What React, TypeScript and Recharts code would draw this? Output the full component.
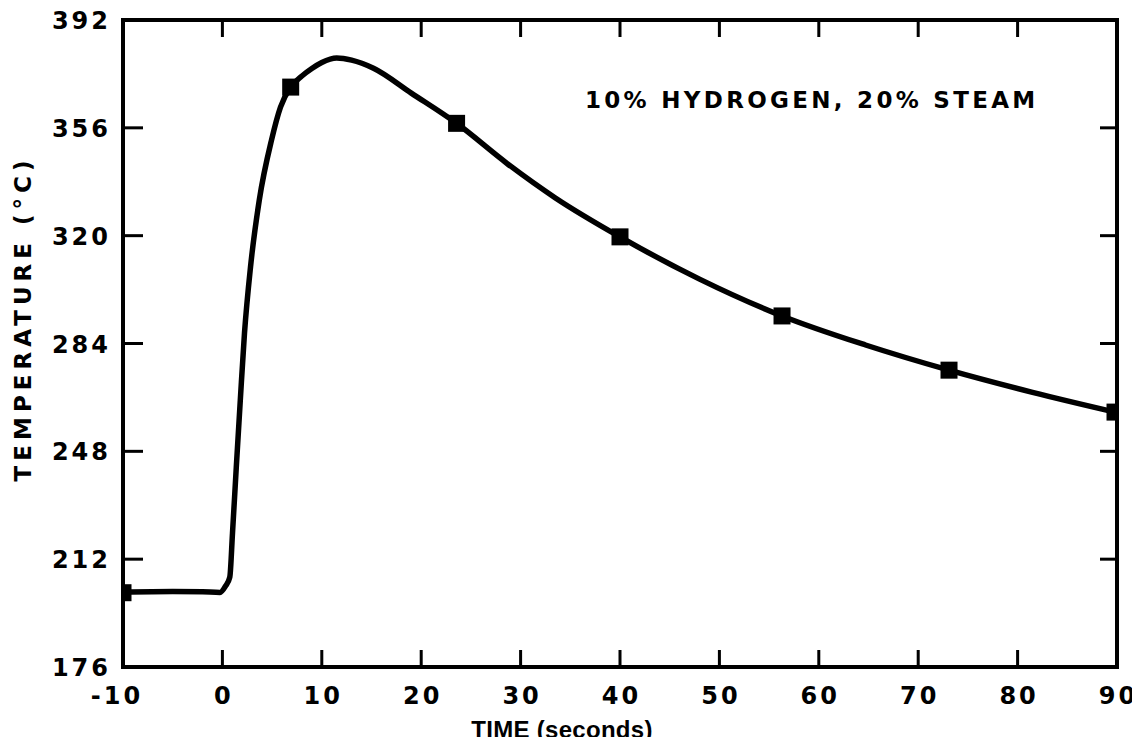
import React from 'react';
import { ComposedChart, Line, Scatter, XAxis, YAxis, ReferenceLine } from 'recharts';

// ---- data ----
const xTicks = [-10, 0, 10, 20, 30, 40, 50, 60, 70, 80, 90];
const xInnerTicks = [0, 10, 20, 30, 40, 50, 60, 70, 80];
const yTicks = [176, 212, 248, 284, 320, 356, 392];
const yInnerTicks = [212, 248, 284, 320, 356];

const curveTime = [-10, -5, -2, -0.24, 0.31, 0.745, 1.016, 1.398, 1.801, 2.223, 2.827, 3.712, 4.94, 5.845, 6.871, 8.0, 9.0, 10.0, 11.5, 13.0, 15.2, 19.0, 23.56, 28.6, 33.5, 40.0, 48.0, 56.3, 64.7, 73.1, 81.5, 89.8];
const curveTemp = [201, 201.2, 201.1, 200.9, 203.0, 206.0, 220.7, 242.7, 265.1, 287.5, 309.5, 331.9, 351.9, 362.9, 369.6, 373.3, 375.8, 377.8, 379.3, 378.6, 375.9, 367.6, 357.5, 344.2, 332.6, 319.6, 305.5, 293.2, 283.5, 275.1, 267.7, 261.1];

const markerTime = [-10, 6.87, 23.56, 40.0, 56.3, 73.1, 89.8];
const markerTemp = [200.8, 369.6, 357.5, 319.6, 293.2, 275.1, 261.1];

const annotation = '10% HYDROGEN, 20% STEAM';
const xTitle = 'TIME (seconds)';
const yTitle = 'TEMPERATURE (°C)';

const X_MIN = -10, X_MAX = 90, Y_MIN = 176, Y_MAX = 392;

const curveData = curveTime.map((t, i) => ({ t, temp: curveTemp[i] }));
const markerData = markerTime.map((t, i) => ({ t, temp: markerTemp[i] }));
const bottomTickData = xInnerTicks.map((t) => ({ t, temp: Y_MIN }));
const topTickData = xInnerTicks.map((t) => ({ t, temp: Y_MAX }));

// chart layout
const CHART_W = 1140, CHART_H = 745;
const MARGIN = { top: 20, right: 23, bottom: 0, left: 0 };
const Y_AXIS_W = 123, X_AXIS_H = 78;
const PLOT_W = CHART_W - MARGIN.left - MARGIN.right - Y_AXIS_W;
const Y_TICK_LEN_L = (20 * (X_MAX - X_MIN)) / PLOT_W;
const Y_TICK_LEN_R = (17 * (X_MAX - X_MIN)) / PLOT_W;

const FONT = '"DejaVu Sans", "Liberation Sans", sans-serif';
const TITLE_FONT = '"Liberation Sans", Arial, sans-serif';
const INK = '#000';

const BottomLabel = (props: any) => {
  const { x, y, payload } = props;
  const v = Number(payload.value);
  return (
    <text
      x={x}
      y={y + 37}
      dx={v < 0 ? -6 : 1.5}
      textAnchor="middle"
      fill={INK}
      style={{ fontFamily: FONT, fontWeight: 700, fontSize: 24, letterSpacing: 3 }}
    >
      {String(v)}
    </text>
  );
};

const LeftLabel = (props: any) => {
  const { x, y, payload } = props;
  const v = Number(payload.value);
  return (
    <text
      x={x - 12}
      y={y + 9}
      textAnchor="end"
      fill={INK}
      style={{ fontFamily: FONT, fontWeight: 700, fontSize: 24, letterSpacing: 3 }}
    >
      {String(v)}
    </text>
  );
};

const SquareMarker = (props: any) => {
  const { cx, cy } = props;
  return <rect x={cx - 8.5} y={cy - 8.5} width={17} height={17} fill={INK} />;
};

// inward tick marks drawn at tick positions on the bottom / top edges
const BottomTickMark = (props: any) => {
  const { cx, cy } = props;
  return <rect x={cx - 1.5} y={cy - 17} width={3} height={17} fill={INK} />;
};
const TopTickMark = (props: any) => {
  const { cx, cy } = props;
  return <rect x={cx - 1.5} y={cy} width={3} height={17} fill={INK} />;
};

const axisLineStyle = { stroke: INK, strokeWidth: 4, strokeLinecap: 'square' as const };
const tickProps = { xAxisId: 'b', yAxisId: 'l', stroke: INK, strokeWidth: 3, ifOverflow: 'visible' as const };
const frameProps = { xAxisId: 'b', yAxisId: 'l', stroke: INK, strokeWidth: 4, strokeLinecap: 'square' as const, ifOverflow: 'visible' as const };

export default function App() {
  return (
    <div style={{ margin: '-8px', width: CHART_W, height: CHART_H, background: '#fff' }}>
      <ComposedChart width={CHART_W} height={CHART_H} margin={MARGIN}>
        <XAxis
          xAxisId="b"
          type="number"
          dataKey="t"
          domain={[X_MIN, X_MAX]}
          ticks={xTicks}
          allowDataOverflow
          orientation="bottom"
          height={X_AXIS_H}
          tickSize={0}
          tickMargin={0}
          tickLine={false}
          axisLine={axisLineStyle}
          tick={<BottomLabel />}
          interval={0}
          label={{
            value: xTitle,
            position: 'insideBottom',
            offset: 7,
            dx: -58,
            fill: INK,
            style: { fontFamily: TITLE_FONT, fontWeight: 700, fontSize: 24, letterSpacing: 0.3, fill: INK },
          }}
        />
        <YAxis
          yAxisId="l"
          type="number"
          domain={[Y_MIN, Y_MAX]}
          ticks={yTicks}
          allowDataOverflow
          orientation="left"
          width={Y_AXIS_W}
          tickSize={0}
          tickMargin={0}
          tickLine={false}
          axisLine={axisLineStyle}
          tick={<LeftLabel />}
          interval={0}
          label={{
            value: yTitle,
            angle: -90,
            position: 'center',
            dx: -39,
            dy: -25,
            fill: INK,
            style: { fontFamily: FONT, fontWeight: 700, fontSize: 23, letterSpacing: 5, fill: INK },
          }}
        />

        <Line
          xAxisId="b"
          yAxisId="l"
          data={curveData}
          dataKey="temp"
          type="monotone"
          stroke={INK}
          strokeWidth={5.5}
          strokeLinejoin="round"
          strokeLinecap="round"
          dot={false}
          activeDot={false}
          isAnimationActive={false}
        />
        <Scatter
          xAxisId="b"
          yAxisId="l"
          data={markerData}
          dataKey="temp"
          fill={INK}
          shape={<SquareMarker />}
          isAnimationActive={false}
        />
        <Scatter
          xAxisId="b"
          yAxisId="l"
          data={bottomTickData}
          dataKey="temp"
          fill={INK}
          shape={<BottomTickMark />}
          isAnimationActive={false}
        />
        <Scatter
          xAxisId="b"
          yAxisId="l"
          data={topTickData}
          dataKey="temp"
          fill={INK}
          shape={<TopTickMark />}
          isAnimationActive={false}
        />

        {/* top and right sides of the frame */}
        <ReferenceLine {...frameProps} segment={[{ x: X_MIN, y: Y_MAX }, { x: X_MAX, y: Y_MAX }]} />
        <ReferenceLine {...frameProps} segment={[{ x: X_MAX, y: Y_MIN }, { x: X_MAX, y: Y_MAX }]} />

        {/* inward tick marks on the left and right */}
        {yInnerTicks.map((v) => (
          <ReferenceLine key={`yl${v}`} {...tickProps} segment={[{ x: X_MIN, y: v }, { x: X_MIN + Y_TICK_LEN_L, y: v }]} />
        ))}
        {yInnerTicks.map((v) => (
          <ReferenceLine key={`yr${v}`} {...tickProps} segment={[{ x: X_MAX - Y_TICK_LEN_R, y: v }, { x: X_MAX, y: v }]} />
        ))}

        <text
          x={585}
          y={108}
          fill={INK}
          style={{ fontFamily: FONT, fontWeight: 700, fontSize: 23, letterSpacing: 3.3 }}
        >
          {annotation}
        </text>
      </ComposedChart>
    </div>
  );
}
